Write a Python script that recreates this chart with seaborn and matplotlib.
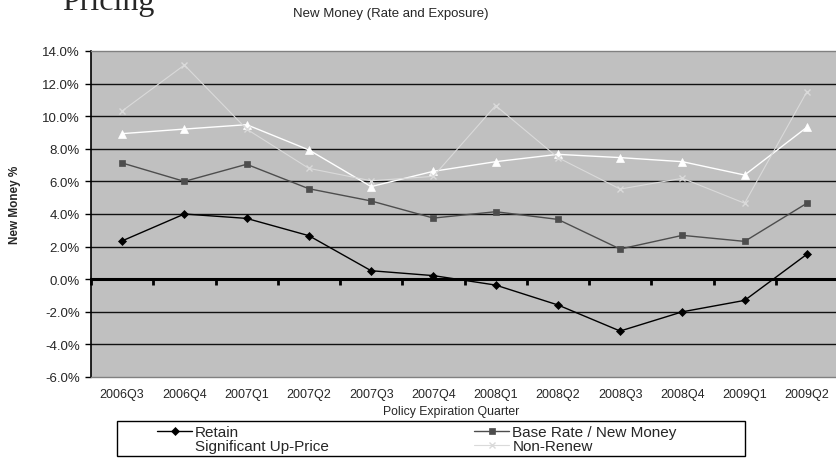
import matplotlib
matplotlib.use("Agg")
import matplotlib.pyplot as plt
from matplotlib.patches import Rectangle
import seaborn as sns
import pandas as pd
import numpy as np

quarters = ["2006Q3", "2006Q4", "2007Q1", "2007Q2", "2007Q3", "2007Q4",
            "2008Q1", "2008Q2", "2008Q3", "2008Q4", "2009Q1", "2009Q2"]
retain = [2.35, 4.0, 3.73, 2.67, 0.52, 0.22, -0.36, -1.58, -3.18, -2.0, -1.3, 1.53]
base_rate = [7.13, 6.0, 7.05, 5.55, 4.8, 3.75, 4.14, 3.67, 1.85, 2.69, 2.32, 4.66]
sig_up = [8.93, 9.21, 9.48, 7.93, 5.68, 6.62, 7.21, 7.66, 7.46, 7.21, 6.39, 9.32]
non_renew = [10.32, 13.14, 9.21, 6.8, 6.04, 6.31, 10.65, 7.46, 5.53, 6.19, 4.66, 11.5]
yticks = [14, 12, 10, 8, 6, 4, 2, 0, -2, -4, -6]

series = {
    "Retain": retain,
    "Base Rate / New Money": base_rate,
    "Significant Up-Price": sig_up,
    "Non-Renew": non_renew,
}
styles = {
    "Retain": dict(color="#000000", marker="D", markersize=4, lw=1.0),
    "Base Rate / New Money": dict(color="#4d4d4d", marker="s", markersize=5, lw=1.0),
    "Significant Up-Price": dict(color="#ffffff", marker="^", markersize=6, lw=1.0),
    "Non-Renew": dict(color="#dadada", marker="x", markersize=5, lw=0.8),
}

sns.set_style("white")
plt.rcParams["font.family"] = ["Liberation Sans", "DejaVu Sans"]

fig = plt.figure(figsize=(8.36, 4.6), dpi=100)
ax = fig.add_axes([91 / 836, 1 - 378 / 460, (838 - 91) / 836, (378 - 52) / 460])
ax.set_facecolor("#c0c0c0")

x = np.arange(len(quarters))
for name, vals in series.items():
    st = styles[name]
    df = pd.DataFrame({"x": x, "y": vals})
    sns.lineplot(data=df, x="x", y="y", ax=ax, color=st["color"], marker=st["marker"],
                 markersize=st["markersize"], linewidth=st["lw"],
                 markeredgecolor=st["color"], markeredgewidth=1.0 if st["marker"] == "x" else 0.5,
                 label=name, zorder=4)
h, l = ax.get_legend_handles_labels()
handles = dict(zip(l, h))
if ax.get_legend() is not None:
    ax.get_legend().remove()

ax.set_xlim(-0.5, 11.5)
ax.set_ylim(-6, 14)
ax.set_yticks(yticks)
ax.set_yticklabels([f"{v:.1f}%" for v in yticks], fontsize=9.5)
ax.set_xticks(x)
ax.set_xticklabels(quarters, fontsize=9)
ax.tick_params(axis="x", length=0, pad=8)
ax.tick_params(axis="y", direction="out", length=4, width=1, color="black", pad=4, left=True)
for v in yticks[1:-1]:
    if v != 0:
        ax.axhline(v, color="#111111", lw=1.0, zorder=1)

for s in ["top", "bottom", "right"]:
    ax.spines[s].set_color("#808080")
    ax.spines[s].set_linewidth(1.0)
ax.spines["left"].set_color("black")
ax.spines["left"].set_linewidth(1.2)

# category axis crossing at zero
sec = ax.secondary_xaxis(6 / 20)
sec.set_xticks(np.arange(-0.5, 12, 1))
sec.set_xticklabels([])
sec.tick_params(direction="out", length=4, width=2, color="black")
sec.spines["bottom"].set_linewidth(2.2)
sec.spines["bottom"].set_color("black")

ax.set_xlabel("Policy Expiration Quarter", fontsize=8.8)
ax.xaxis.set_label_coords((451 - 91) / 747, -(412 - 378) / 326)
ax.xaxis.label.set_va("center")
ax.set_ylabel("New Money %", fontsize=8.5, fontweight="bold")
ax.yaxis.set_label_coords(-(91 - 15) / 747, (378 - 205) / 326)
ax.yaxis.label.set_va("center")

fig.text(391 / 836, 1 - 14 / 460, "New Money (Rate and Exposure)", ha="center", va="center",
         fontsize=9.5)
fig.text(62 / 836, 1 - 10 / 460, "Pricing", ha="left", va="baseline", fontsize=23,
         family=["Liberation Serif", "DejaVu Serif"])

order = ["Retain", "Significant Up-Price", "Base Rate / New Money", "Non-Renew"]
leg = fig.legend([handles[k] for k in order], order, ncol=2, loc="upper left",
                 bbox_to_anchor=(157 / 836, 1 - 426 / 460),
                 bbox_transform=fig.transFigure, fontsize=11, frameon=False,
                 borderpad=0, labelspacing=0.0, handlelength=2.3, handletextpad=0.2,
                 columnspacing=9.5, borderaxespad=0)
fig.add_artist(Rectangle((117 / 836, 1 - 457 / 460), 628 / 836, 35 / 460,
                         transform=fig.transFigure, fill=False, lw=1.0, ec="black"))

fig.savefig("out.png", dpi=100)
